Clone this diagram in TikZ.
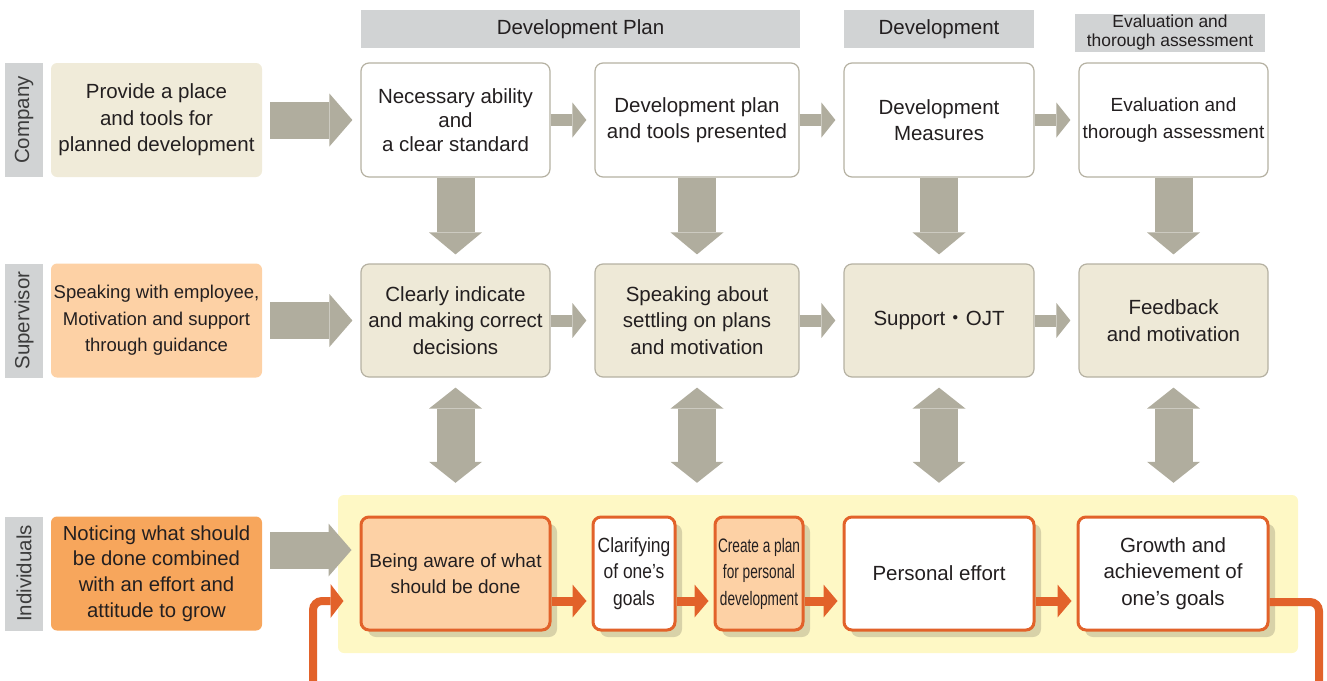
\documentclass[tikz,border=0pt]{standalone}
\usepackage{fontspec}
\setmainfont{Liberation Sans}
\newfontfamily\cjkfont{Noto Sans CJK JP}
\newfontfamily\slimfont[FakeStretch=0.85]{Liberation Sans}
\newfontfamily\slimmerfont[FakeStretch=0.7]{Liberation Sans}
\usetikzlibrary{arrows.meta,shadows}

\definecolor{ink}{HTML}{231F20}
\definecolor{labelink}{HTML}{3C3C3C}
\definecolor{bargray}{HTML}{D1D3D4}
\definecolor{beige}{HTML}{F0EBD9}
\definecolor{cream}{HTML}{EEE9D7}
\definecolor{peach}{HTML}{FDD1A5}
\definecolor{tangerine}{HTML}{F7A65C}
\definecolor{arrowgray}{HTML}{B0AD9E}
\definecolor{boxline}{HTML}{B5B1A2}
\definecolor{rust}{HTML}{E2622A}
\definecolor{lemon}{HTML}{FEF8C5}
\definecolor{shade}{HTML}{D8D2A8}

\newcommand\bodyfont{\fontsize{20.5}{26.5}\selectfont}
\newcommand\midfont{\fontsize{19}{26.5}\selectfont}
\newcommand\supfont{\fontsize{18.5}{26.5}\selectfont}
\newcommand\headfont{\fontsize{17.4}{19}\selectfont}

\begin{document}
\begin{tikzpicture}[x=1pt,y=-1pt]
  \clip (0,0) rectangle (1327,680);

  % row names
  \begin{scope}[every node/.style={fill=bargray, text=labelink, inner sep=0,
      minimum width=114, minimum height=38, rotate=90, font=\bodyfont}]
    \node (r1) at (24,120)   {Company};
    \node (r2) at (24,320.5) {Supervisor};
    \node (r3) at (24,573.5) {Individuals};
  \end{scope}

  % phase headers
  \begin{scope}[every node/.style={fill=bargray, text=ink, inner sep=0,
      minimum height=38, font=\bodyfont}]
    \node[minimum width=439] (h1) at (580.5,29) {Development Plan};
    \node[minimum width=190] (h2) at (939,29)   {Development};
    \node[minimum width=190, align=center, font=\headfont] (h3) at (1170,33)
      {Evaluation and\\thorough assessment};
  \end{scope}

  % what each party does
  \begin{scope}[every node/.style={rounded corners=6pt, inner sep=0, align=center,
      minimum width=211, minimum height=114, text=ink, font=\bodyfont}]
    \node[fill=beige] (c0) at (156.5,120)
      {Provide a place\\and tools for\\planned development};
    \node[fill=peach, font=\supfont] (s0) at (156.5,320.5)
      {Speaking with employee,\\Motivation and support\\through guidance};
    \node[fill=tangerine, font=\fontsize{20.3}{25.7}\selectfont] (i0) at (156.5,573.5)
      {Noticing what should\\be done combined\\with an effort and\\attitude to grow};
  \end{scope}

  % company and supervisor steps
  \begin{scope}[every node/.style={draw=boxline, line width=1.2pt, rounded corners=8pt,
      inner sep=0, align=center, minimum height=114, text=ink, font=\bodyfont}]
    \node[fill=white, minimum width=189, font=\fontsize{20.5}{24}\selectfont] (t1) at (455.5,120)
      {Necessary ability\\and\\a clear standard};
    \node[fill=white, minimum width=204] (t2) at (697,120)
      {Development plan\\and tools presented};
    \node[fill=white, minimum width=190] (t3) at (939,120)
      {Development\\Measures};
    \node[fill=white, minimum width=189, font=\midfont] (t4) at (1173.5,120)
      {Evaluation and\\thorough assessment};

    \node[fill=cream, minimum width=189, minimum height=113] (m1) at (455.5,320.5)
      {Clearly indicate\\and making correct\\decisions};
    \node[fill=cream, minimum width=204, minimum height=113] (m2) at (697,320.5)
      {Speaking about\\settling on plans\\and motivation};
    \node[fill=cream, minimum width=190, minimum height=113] (m3) at (939,320.5)
      {Support{\cjkfont ・}OJT};
    \node[fill=cream, minimum width=189, minimum height=113] (m4) at (1173.5,320.5)
      {Feedback\\and motivation};
  \end{scope}

  \node[fill=lemon, rounded corners=6pt, inner sep=0,
    minimum width=960, minimum height=158] (bg) at (818,574) {};

  % individual steps
  \begin{scope}[every node/.style={draw=rust, line width=3pt, rounded corners=8pt,
      inner sep=0, align=center, minimum height=113, text=ink, font=\bodyfont,
      drop shadow={shadow xshift=7pt, shadow yshift=-7pt, fill=shade, opacity=1}}]
    \node[fill=peach, minimum width=189, font=\midfont] (b1) at (455.5,573.5)
      {Being aware of what\\should be done};
    \node[fill=white, minimum width=82, font=\slimfont\fontsize{20.5}{26.5}\selectfont] (b2) at (634,573.5)
      {Clarifying\\of one’s\\goals};
    \node[fill=peach, minimum width=88, font=\slimmerfont\fontsize{19.5}{26.5}\selectfont] (b3) at (759,573.5)
      {Create a plan\\for personal\\development};
    \node[fill=white, minimum width=190] (b4) at (939,573.5)
      {Personal effort};
    \node[fill=white, minimum width=190] (b5) at (1173,573.5)
      {Growth and\\achievement of\\one’s goals};
  \end{scope}

  % gray arrows
  \begin{scope}[every edge/.style={draw=arrowgray, line width=37pt, shorten <=8pt, shorten >=8pt,
      -{Triangle[length=23pt,width=53pt,line width=0pt]}}]
    \path (c0) edge (t1);
    \path (s0) edge (m1);
    \path ([yshift=23.5pt]i0.east) edge ([yshift=23.5pt]b1.west);
  \end{scope}

  \begin{scope}[every edge/.style={draw=arrowgray, line width=12pt, shorten >=8pt,
      -{Triangle[length=14pt,width=35pt,line width=0pt]}}]
    \path (t1) edge (t2);
    \path (t2) edge (t3);
    \path (t3) edge (t4);
    \path (m1) edge (m2);
    \path (m2) edge (m3);
    \path (m3) edge (m4);
  \end{scope}

  \begin{scope}[every edge/.style={draw=arrowgray, line width=38pt, shorten >=9pt,
      -{Triangle[length=22pt,width=53pt,line width=0pt]}}]
    \path (t1) edge (m1);
    \path (t2) edge (m2);
    \path (t3) edge (m3);
    \path (t4) edge (m4);
  \end{scope}

  \begin{scope}[every edge/.style={draw=arrowgray, line width=38pt, shorten <=10pt, shorten >=12pt,
      {Triangle[length=21pt,width=53pt,line width=0pt]}-{Triangle[length=21pt,width=53pt,line width=0pt]}}]
    \path (m1.south) edge (m1.south |- bg.north);
    \path (m2.south) edge (m2.south |- bg.north);
    \path (m3.south) edge (m3.south |- bg.north);
    \path (m4.south) edge (m4.south |- bg.north);
  \end{scope}

  % orange flow
  \begin{scope}[every edge/.style={draw=rust, line width=9pt, shorten >=5pt,
      -{Triangle[length=14pt,width=33pt,line width=0pt]}}]
    \path ([yshift=-27.5pt]b1.east) edge ([yshift=-27.5pt]b2.west);
    \path ([yshift=-27.5pt]b2.east) edge ([yshift=-27.5pt]b3.west);
    \path ([yshift=-27.5pt]b3.east) edge ([yshift=-27.5pt]b4.west);
    \path ([yshift=-27.5pt]b4.east) edge ([yshift=-27.5pt]b5.west);
  \end{scope}

  \draw[rust, line width=8pt, rounded corners=9pt, shorten >=16pt,
      -{Triangle[length=13pt,width=34pt,line width=0pt]}]
    ([yshift=-28.5pt]b5.east) -- (1319,602) -- (1319,700) -- (313,700)
    -- (313,601) -- ([yshift=-27.5pt]b1.west);

\end{tikzpicture}
\end{document}
